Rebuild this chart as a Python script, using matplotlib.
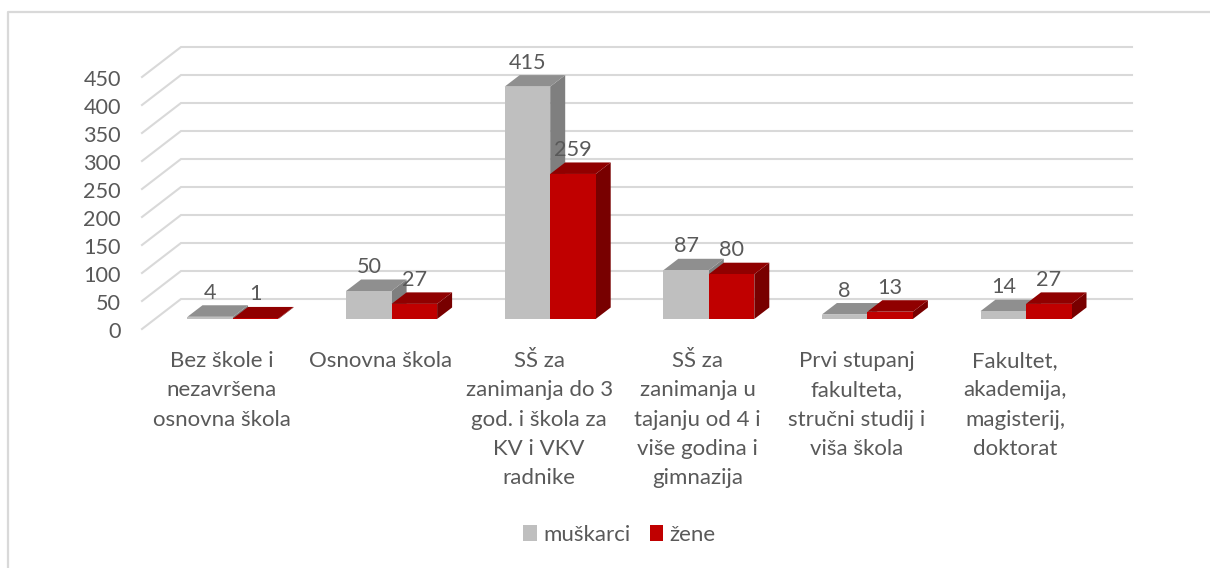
import matplotlib
matplotlib.use("Agg")
import matplotlib.pyplot as plt
from matplotlib.lines import Line2D
from matplotlib.patches import Polygon, Patch
from matplotlib.transforms import ScaledTranslation

categories = ["Bez škole i\nnezavršena\nosnovna škola",
              "Osnovna škola",
              "SŠ za\nzanimanja do 3\ngod. i škola za\nKV i VKV\nradnike",
              "SŠ za\nzanimanja u\ntajanju od 4 i\nviše godina i\ngimnazija",
              "Prvi stupanj\nfakulteta,\nstručni studij i\nviša škola",
              "Fakultet,\nakademija,\nmagisterij,\ndoktorat"]
muskarci = [4, 50, 415, 87, 8, 14]
zene = [1, 27, 259, 80, 13, 27]
y_ticks = list(range(0, 451, 50))

W, H = 1210, 568
DPI = 100
TXT = "#595959"
GRID = "#d9d9d9"
FS = 15.6
FSX = 16.0
plt.rcParams["font.family"] = ["Lato", "DejaVu Sans"]

fig = plt.figure(figsize=(W / DPI, H / DPI), dpi=DPI, facecolor="white")
# axes = plane of the bar fronts
L, R, T, B = 153.7, 1105.3, 67.0, 319.0
ax = fig.add_axes([L / W, 1 - B / H, (R - L) / W, (B - T) / H])
ax.set_xlim(-0.5, 5.5)
ax.set_ylim(0, 450)
ax.patch.set_visible(False)
for s in ax.spines.values():
    s.set_visible(False)

px_x = (R - L) / 6      # px per category
px_y = (B - T) / 450    # px per value
def dx(p): return p / px_x
def dy(p): return p / px_y

# chart frame (top and left only are in view)
fig.add_artist(Line2D([7.5 / W, 7.5 / W, 1], [0, 1 - 11.5 / H, 1 - 11.5 / H], color=GRID, lw=1.6))

# gridlines on back wall + diagonal on the side wall
x_back_l = -0.5 + dx(181 - L)
x_back_r = -0.5 + dx(1132 - L)
x_front_l = -0.5 + dx(142 - L)
for v in y_ticks:
    yb = v + dy(20)
    yf = v - dy(10)
    ax.plot([x_front_l, x_back_l, x_back_r], [yf, yb, yb], color=GRID, lw=1.5,
            clip_on=False, zorder=1, solid_joinstyle="miter")

# 3D bars
bar_w = 45.5 / px_x
DX, DY = dx(15), dy(11.5)
series = [(muskarci, "#bfbfbf", "#8f8f8f", "#7f7f7f", -1),
          (zene, "#c00000", "#900000", "#780000", 0)]
for idx, (vals, front, top, side, off) in enumerate(series):
    for i, v in enumerate(vals):
        x0 = i + off * bar_w
        x1 = x0 + bar_w
        z = 3 + idx
        ax.add_patch(Polygon([(x1, 0), (x1 + DX, DY), (x1 + DX, v + DY), (x1, v)], fc=side, ec="none", zorder=z, clip_on=False))
        ax.add_patch(Polygon([(x0, v), (x0 + DX, v + DY), (x1 + DX, v + DY), (x1, v)], fc=top, ec="none", zorder=z, clip_on=False))
        ax.add_patch(Polygon([(x0, 0), (x1, 0), (x1, v), (x0, v)], fc=front, ec="none", zorder=z, clip_on=False))
        ax.annotate(str(v), (x0 + bar_w / 2, v), xytext=(0, 24 * 72 / DPI), textcoords="offset points",
                    ha="center", va="center", fontsize=FS, color=TXT, zorder=10, annotation_clip=False)

# axes ticks
ax.set_yticks(y_ticks)
ax.set_yticklabels([str(v) for v in y_ticks], fontsize=FS, color=TXT)
ax.tick_params(axis="y", length=0, pad=(L - 121) * 72 / DPI)
for lab in ax.get_yticklabels():
    lab.set_transform(lab.get_transform() + ScaledTranslation(0, -11 / DPI, fig.dpi_scale_trans))

ax.set_xticks(range(len(categories)))
ax.set_xticklabels(categories, fontsize=FSX, color=TXT, linespacing=1.58, ha="center", va="top")
ax.tick_params(axis="x", length=0, pad=(351 - B) * 72 / DPI)
for lab in ax.get_xticklabels():
    lab.set_transform(lab.get_transform() + ScaledTranslation(-11 / DPI, 0, fig.dpi_scale_trans))

# legend
handles = [Patch(fc="#bfbfbf", ec="none", label="muškarci"), Patch(fc="#c00000", ec="none", label="žene")]
fig.legend(handles=handles, loc="center", bbox_to_anchor=(619.5 / W, 1 - 535 / H), ncol=2, frameon=False,
           fontsize=FSX, labelcolor=TXT, handlelength=0.6, handleheight=0.72, handletextpad=0.3,
           columnspacing=0.85, borderpad=0)

fig.savefig("out.png", dpi=DPI, facecolor="white")
